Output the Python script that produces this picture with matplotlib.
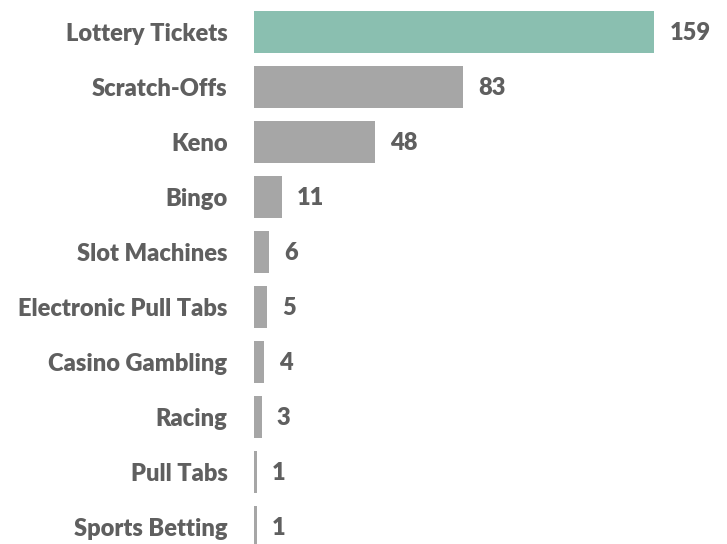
import matplotlib
matplotlib.use("Agg")
import matplotlib.pyplot as plt

categories = ["Lottery Tickets", "Scratch-Offs", "Keno", "Bingo", "Slot Machines",
              "Electronic Pull Tabs", "Casino Gambling", "Racing", "Pull Tabs", "Sports Betting"]
values = [159, 83, 48, 11, 6, 5, 4, 3, 1, 1]
colors = ["#8ABFB0"] + ["#A6A6A6"] * 9

plt.rcParams['font.family'] = ['Lato', 'DejaVu Sans']
text_color = "#5f5f5f"

fig = plt.figure(figsize=(7.27, 5.44), dpi=100)
ax = fig.add_axes([254 / 727, 0, 1 - 254 / 727, 1])

y = list(range(len(categories)))
ax.barh(y, values, height=0.76, color=colors)

for yi, v in zip(y, values):
    ax.annotate(str(v), (v, yi), xytext=(11, -1), textcoords="offset points",
                va="center", ha="left", fontsize=17, fontweight="heavy", color=text_color)

ax.set_xlim(0, 473 / 2.516)
ax.set_ylim((544 - 32) / 55, -32 / 55)
ax.set_yticks(y)
ax.set_yticklabels(categories, fontsize=17, fontweight="heavy", color=text_color)
ax.tick_params(axis="y", length=0, pad=19)
ax.set_xticks([])
for s in ax.spines.values():
    s.set_visible(False)

fig.savefig("out.png", dpi=100)
